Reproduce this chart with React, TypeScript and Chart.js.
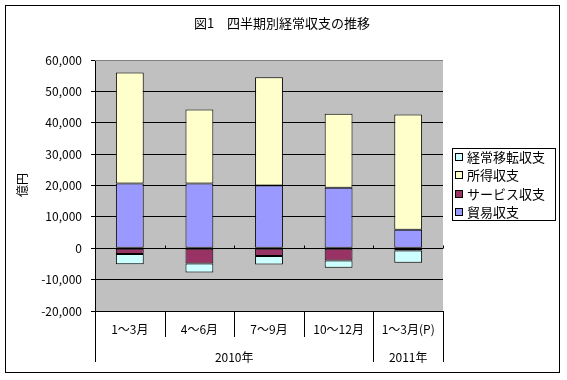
import React, { useEffect, useRef } from "react";
import { Chart, registerables } from "chart.js";

Chart.register(...registerables);

const chartTitle = "図1　四半期別経常収支の推移";
const yAxisTitle = "億円";
const categories = ["1～3月", "4～6月", "7～9月", "10～12月", "1～3月(P)"];
const yearGroups = ["2010年", "2011年"];
const yearSpans = [4, 1];
const tradeBalance = [20600, 20600, 20000, 19300, 5900];
const servicesBalance = [-1800, -4900, -2500, -3900, -700];
const incomeBalance = [35400, 23600, 34500, 23600, 36700];
const transfersBalance = [-3300, -2800, -2700, -2300, -3900];
const yMin = -20000;
const yMax = 60000;
const yStep = 10000;

const FONT = '"Noto Sans CJK JP", "Noto Sans", sans-serif';

const decorPlugin = {
  id: "decor",
  beforeDraw(chart: any) {
    const { ctx, chartArea, width, height } = chart;
    ctx.save();
    ctx.fillStyle = "#ffffff";
    ctx.fillRect(0, 0, width, height);
    ctx.fillStyle = "#C0C0C0";
    ctx.fillRect(chartArea.left, chartArea.top, chartArea.right - chartArea.left, chartArea.bottom - chartArea.top);
    ctx.restore();
  },
  afterDraw(chart: any) {
    const { ctx, chartArea } = chart;
    const x = chart.scales.x;
    const y = chart.scales.y;
    ctx.save();
    // plot top border (gray)
    ctx.strokeStyle = "#808080";
    ctx.lineWidth = 1;
    ctx.beginPath();
    ctx.moveTo(chartArea.left, chartArea.top + 0.5);
    ctx.lineTo(chartArea.right, chartArea.top + 0.5);
    ctx.stroke();

    const n = categories.length;
    const catW = (chartArea.right - chartArea.left) / n;
    const y0 = Math.round(y.getPixelForValue(0)) + 0.5;
    // category tick marks on the zero line
    ctx.strokeStyle = "#000";
    ctx.beginPath();
    for (let i = 1; i <= n; i++) {
      const px = Math.round(chartArea.left + i * catW) + 0.5;
      ctx.moveTo(px, y0 - 3);
      ctx.lineTo(px, y0);
    }
    ctx.stroke();

    // multi-level category labels
    const bottom = chartArea.bottom;
    const row1 = bottom + 26;
    const row2 = bottom + 51;
    ctx.beginPath();
    for (let i = 0; i <= n; i++) {
      const px = Math.round(chartArea.left + i * catW) + 0.5;
      ctx.moveTo(px, bottom);
      ctx.lineTo(px, row1);
    }
    let acc = 0;
    const bounds = [0];
    yearSpans.forEach((s) => { acc += s; bounds.push(acc); });
    bounds.forEach((b) => {
      const px = Math.round(chartArea.left + b * catW) + 0.5;
      ctx.moveTo(px, row1);
      ctx.lineTo(px, row2);
    });
    ctx.stroke();

    ctx.fillStyle = "#000";
    ctx.font = `12px ${FONT}`;
    ctx.textAlign = "center";
    ctx.textBaseline = "middle";
    categories.forEach((c, i) => {
      ctx.fillText(c, x.getPixelForValue(i), bottom + 18);
    });
    yearGroups.forEach((g, i) => {
      const cx = chartArea.left + ((bounds[i] + bounds[i + 1]) / 2) * catW;
      ctx.fillText(g, cx, bottom + 46);
    });

    // title
    ctx.font = `13px ${FONT}`;
    ctx.fillText(chartTitle, 282, 23);

    // y axis title
    ctx.save();
    ctx.translate(22, 185);
    ctx.rotate(-Math.PI / 2);
    ctx.font = `12px ${FONT}`;
    ctx.fillText(yAxisTitle, 0, 0);
    ctx.restore();

    // legend
    const lx = 452.5, ly = 148.5, lw = 103, lh = 72;
    ctx.strokeStyle = "#000";
    ctx.strokeRect(lx, ly, lw, lh);
    const items = [...chart.data.datasets].reverse();
    ctx.font = `13px ${FONT}`;
    ctx.textAlign = "left";
    items.forEach((ds: any, i: number) => {
      const cy = 157 + i * 18.3;
      ctx.fillStyle = ds.backgroundColor;
      ctx.fillRect(455, Math.round(cy - 4), 8, 8);
      ctx.strokeRect(455.5, Math.round(cy - 4) + 0.5, 7, 7);
      ctx.fillStyle = "#000";
      ctx.fillText(ds.label, 467, cy);
    });

    // outer frame
    ctx.strokeStyle = "#000";
    ctx.strokeRect(5.5, 5.5, 554, 367);
    ctx.restore();
  },
};

export default function App() {
  const ref = useRef<HTMLCanvasElement>(null);
  useEffect(() => {
    document.body.style.margin = "0";
    const canvas = ref.current!;
    const common = { borderColor: "#000", borderWidth: 1, borderSkipped: false, barPercentage: 0.4, categoryPercentage: 1.0 };
    const chart = new Chart(canvas, {
      type: "bar",
      data: {
        labels: categories,
        datasets: [
          { label: "貿易収支", data: tradeBalance, backgroundColor: "#9999FF", ...common },
          { label: "サービス収支", data: servicesBalance, backgroundColor: "#993366", ...common },
          { label: "所得収支", data: incomeBalance, backgroundColor: "#FFFFCC", ...common },
          { label: "経常移転収支", data: transfersBalance, backgroundColor: "#CCFFFF", ...common },
        ],
      },
      options: {
        responsive: false,
        animation: false,
        layout: { padding: { left: 0, right: 124, top: 60, bottom: 0 } },
        plugins: {
          legend: { display: false },
          title: { display: false },
          tooltip: { enabled: false },
        },
        scales: {
          x: {
            stacked: true,
            grid: { display: false },
            ticks: { display: false },
            border: { display: true, color: "#000" },
            afterFit: (s: any) => { s.height = 69; },
          },
          y: {
            stacked: true,
            min: yMin,
            max: yMax,
            ticks: {
              stepSize: yStep,
              color: "#000",
              padding: 9,
              font: { family: FONT, size: 12 },
              callback: (v: any) => Number(v).toLocaleString("en-US"),
            },
            grid: { color: "#000", tickLength: 4 },
            border: { color: "#000" },
            afterFit: (s: any) => { s.width = 95; },
          },
        },
      } as any,
      plugins: [decorPlugin],
    });
    return () => chart.destroy();
  }, []);
  return <canvas ref={ref} width={567} height={380} style={{ display: "block" }} />;
}
